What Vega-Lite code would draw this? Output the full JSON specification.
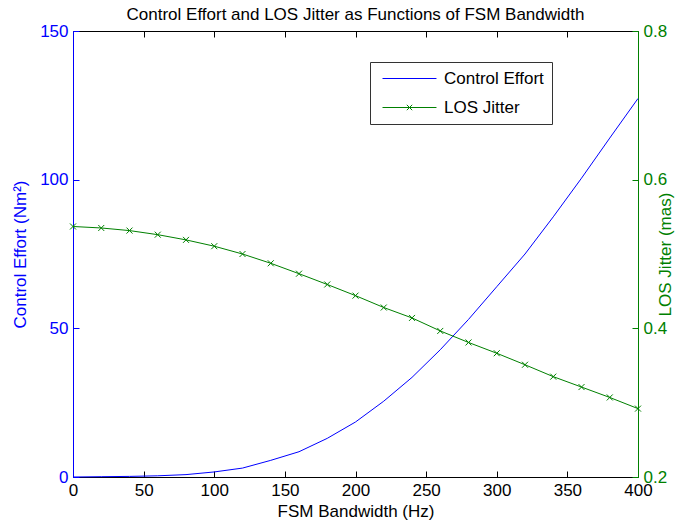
{
  "$schema": "https://vega.github.io/schema/vega-lite/v6.json",
  "autosize": "none",
  "width": 565,
  "height": 446,
  "padding": {"left": 73, "top": 31, "right": 48, "bottom": 50},
  "background": "white",
  "config": {
    "font": "Liberation Sans",
    "view": {"stroke": null},
    "axis": {"grid": false, "labelFont": "Liberation Sans", "titleFont": "Liberation Sans", "labelFontSize": 17, "titleFontSize": 17, "titleFontWeight": "normal", "tickSize": -6, "labelPadding": 11, "labelFlush": false, "labelOverlap": false}
  },
  "title": {"text": "Control Effort and LOS Jitter as Functions of FSM Bandwidth", "font": "Liberation Sans", "fontSize": 17, "fontWeight": "normal", "color": "black", "anchor": "middle", "offset": -2},
  "datasets": {
    "effort": [
      {"bw": 0, "series": "Control Effort", "value": 0},
      {"bw": 20, "series": "Control Effort", "value": 0.1},
      {"bw": 40, "series": "Control Effort", "value": 0.2},
      {"bw": 60, "series": "Control Effort", "value": 0.4},
      {"bw": 80, "series": "Control Effort", "value": 0.8},
      {"bw": 100, "series": "Control Effort", "value": 1.7},
      {"bw": 120, "series": "Control Effort", "value": 3.0},
      {"bw": 140, "series": "Control Effort", "value": 5.6},
      {"bw": 160, "series": "Control Effort", "value": 8.5},
      {"bw": 180, "series": "Control Effort", "value": 13.0},
      {"bw": 200, "series": "Control Effort", "value": 18.5},
      {"bw": 220, "series": "Control Effort", "value": 25.5},
      {"bw": 240, "series": "Control Effort", "value": 33.5},
      {"bw": 260, "series": "Control Effort", "value": 42.8},
      {"bw": 280, "series": "Control Effort", "value": 53.0},
      {"bw": 300, "series": "Control Effort", "value": 64.0},
      {"bw": 320, "series": "Control Effort", "value": 75.0},
      {"bw": 340, "series": "Control Effort", "value": 87.5},
      {"bw": 360, "series": "Control Effort", "value": 100.5},
      {"bw": 380, "series": "Control Effort", "value": 114.0},
      {"bw": 400, "series": "Control Effort", "value": 127.3}
    ],
    "jitter": [
      {"bw": 0, "series": "LOS Jitter", "value": 0.537},
      {"bw": 20, "series": "LOS Jitter", "value": 0.535},
      {"bw": 40, "series": "LOS Jitter", "value": 0.5315},
      {"bw": 60, "series": "LOS Jitter", "value": 0.526},
      {"bw": 80, "series": "LOS Jitter", "value": 0.519},
      {"bw": 100, "series": "LOS Jitter", "value": 0.5105},
      {"bw": 120, "series": "LOS Jitter", "value": 0.5},
      {"bw": 140, "series": "LOS Jitter", "value": 0.4875},
      {"bw": 160, "series": "LOS Jitter", "value": 0.4735},
      {"bw": 180, "series": "LOS Jitter", "value": 0.459},
      {"bw": 200, "series": "LOS Jitter", "value": 0.444},
      {"bw": 220, "series": "LOS Jitter", "value": 0.428},
      {"bw": 240, "series": "LOS Jitter", "value": 0.414},
      {"bw": 260, "series": "LOS Jitter", "value": 0.3965},
      {"bw": 280, "series": "LOS Jitter", "value": 0.381},
      {"bw": 300, "series": "LOS Jitter", "value": 0.3665},
      {"bw": 320, "series": "LOS Jitter", "value": 0.351},
      {"bw": 340, "series": "LOS Jitter", "value": 0.335},
      {"bw": 360, "series": "LOS Jitter", "value": 0.321},
      {"bw": 380, "series": "LOS Jitter", "value": 0.307},
      {"bw": 400, "series": "LOS Jitter", "value": 0.292}
    ]
  },
  "layer": [
    {
      "data": {"name": "effort"},
      "mark": {"type": "line", "strokeWidth": 1, "clip": false},
      "encoding": {
        "x": {"field": "bw", "type": "quantitative", "scale": {"domain": [0, 400], "nice": false},
              "axis": {"orient": "bottom", "title": "FSM Bandwidth (Hz)", "values": [0, 50, 100, 150, 200, 250, 300, 350, 400], "domainColor": "black", "tickColor": "black", "labelColor": "black", "titleColor": "black", "titlePadding": 5}},
        "y": {"field": "value", "type": "quantitative", "scale": {"domain": [0, 150], "nice": false},
              "axis": {"orient": "left", "title": "Control Effort (Nm²)", "values": [0, 50, 100, 150], "domainColor": "#0000ff", "tickColor": "#0000ff", "labelColor": "#0000ff", "titleColor": "#0000ff", "titlePadding": 10}},
        "color": {"field": "series", "type": "nominal",
                  "scale": {"domain": ["Control Effort", "LOS Jitter"], "range": ["#0000ff", "#008000"]},
                  "legend": {"orient": "none", "legendX": 297, "legendY": 31, "title": null,
                             "labelFontSize": 17, "labelFont": "Liberation Sans", "labelColor": "black",
                             "strokeColor": "#333333", "fillColor": "white", "padding": 8,
                             "symbolType": "M-4,0H4", "symbolSize": 182, "symbolStrokeWidth": 1,
                             "symbolOffset": 23, "labelOffset": 26, "rowPadding": 11,
                             "encode": {"symbols": {"update": {"shape": {"signal": "datum.value === 'LOS Jitter' ? 'M-4,0H4M-0.4,-0.4L0.4,0.4M-0.4,0.4L0.4,-0.4' : 'M-4,0H4'"}}}}}}
      }
    },
    {
      "data": {"name": "jitter"},
      "mark": {"type": "line", "strokeWidth": 1, "clip": false, "point": {"shape": "M-1,-1L1,1M-1,1L1,-1", "size": 36, "filled": false, "strokeWidth": 1, "color": "#008000"}},
      "encoding": {
        "x": {"field": "bw", "type": "quantitative", "scale": {"domain": [0, 400], "nice": false},
              "axis": {"orient": "top", "title": null, "labels": false, "values": [0, 50, 100, 150, 200, 250, 300, 350, 400], "domainColor": "black", "tickColor": "black"}},
        "y": {"field": "value", "type": "quantitative", "scale": {"domain": [0.2, 0.8], "nice": false, "zero": false},
              "axis": {"orient": "right", "title": "LOS Jitter (mas)", "titleAngle": 270, "values": [0.2, 0.4, 0.6, 0.8], "format": ".1f", "domainColor": "#008000", "tickColor": "#008000", "labelColor": "#008000", "titleColor": "#008000", "titlePadding": 8}},
        "color": {"field": "series", "type": "nominal"}
      }
    }
  ],
  "resolve": {"scale": {"y": "independent"}, "axis": {"x": "independent", "y": "independent"}}
}
